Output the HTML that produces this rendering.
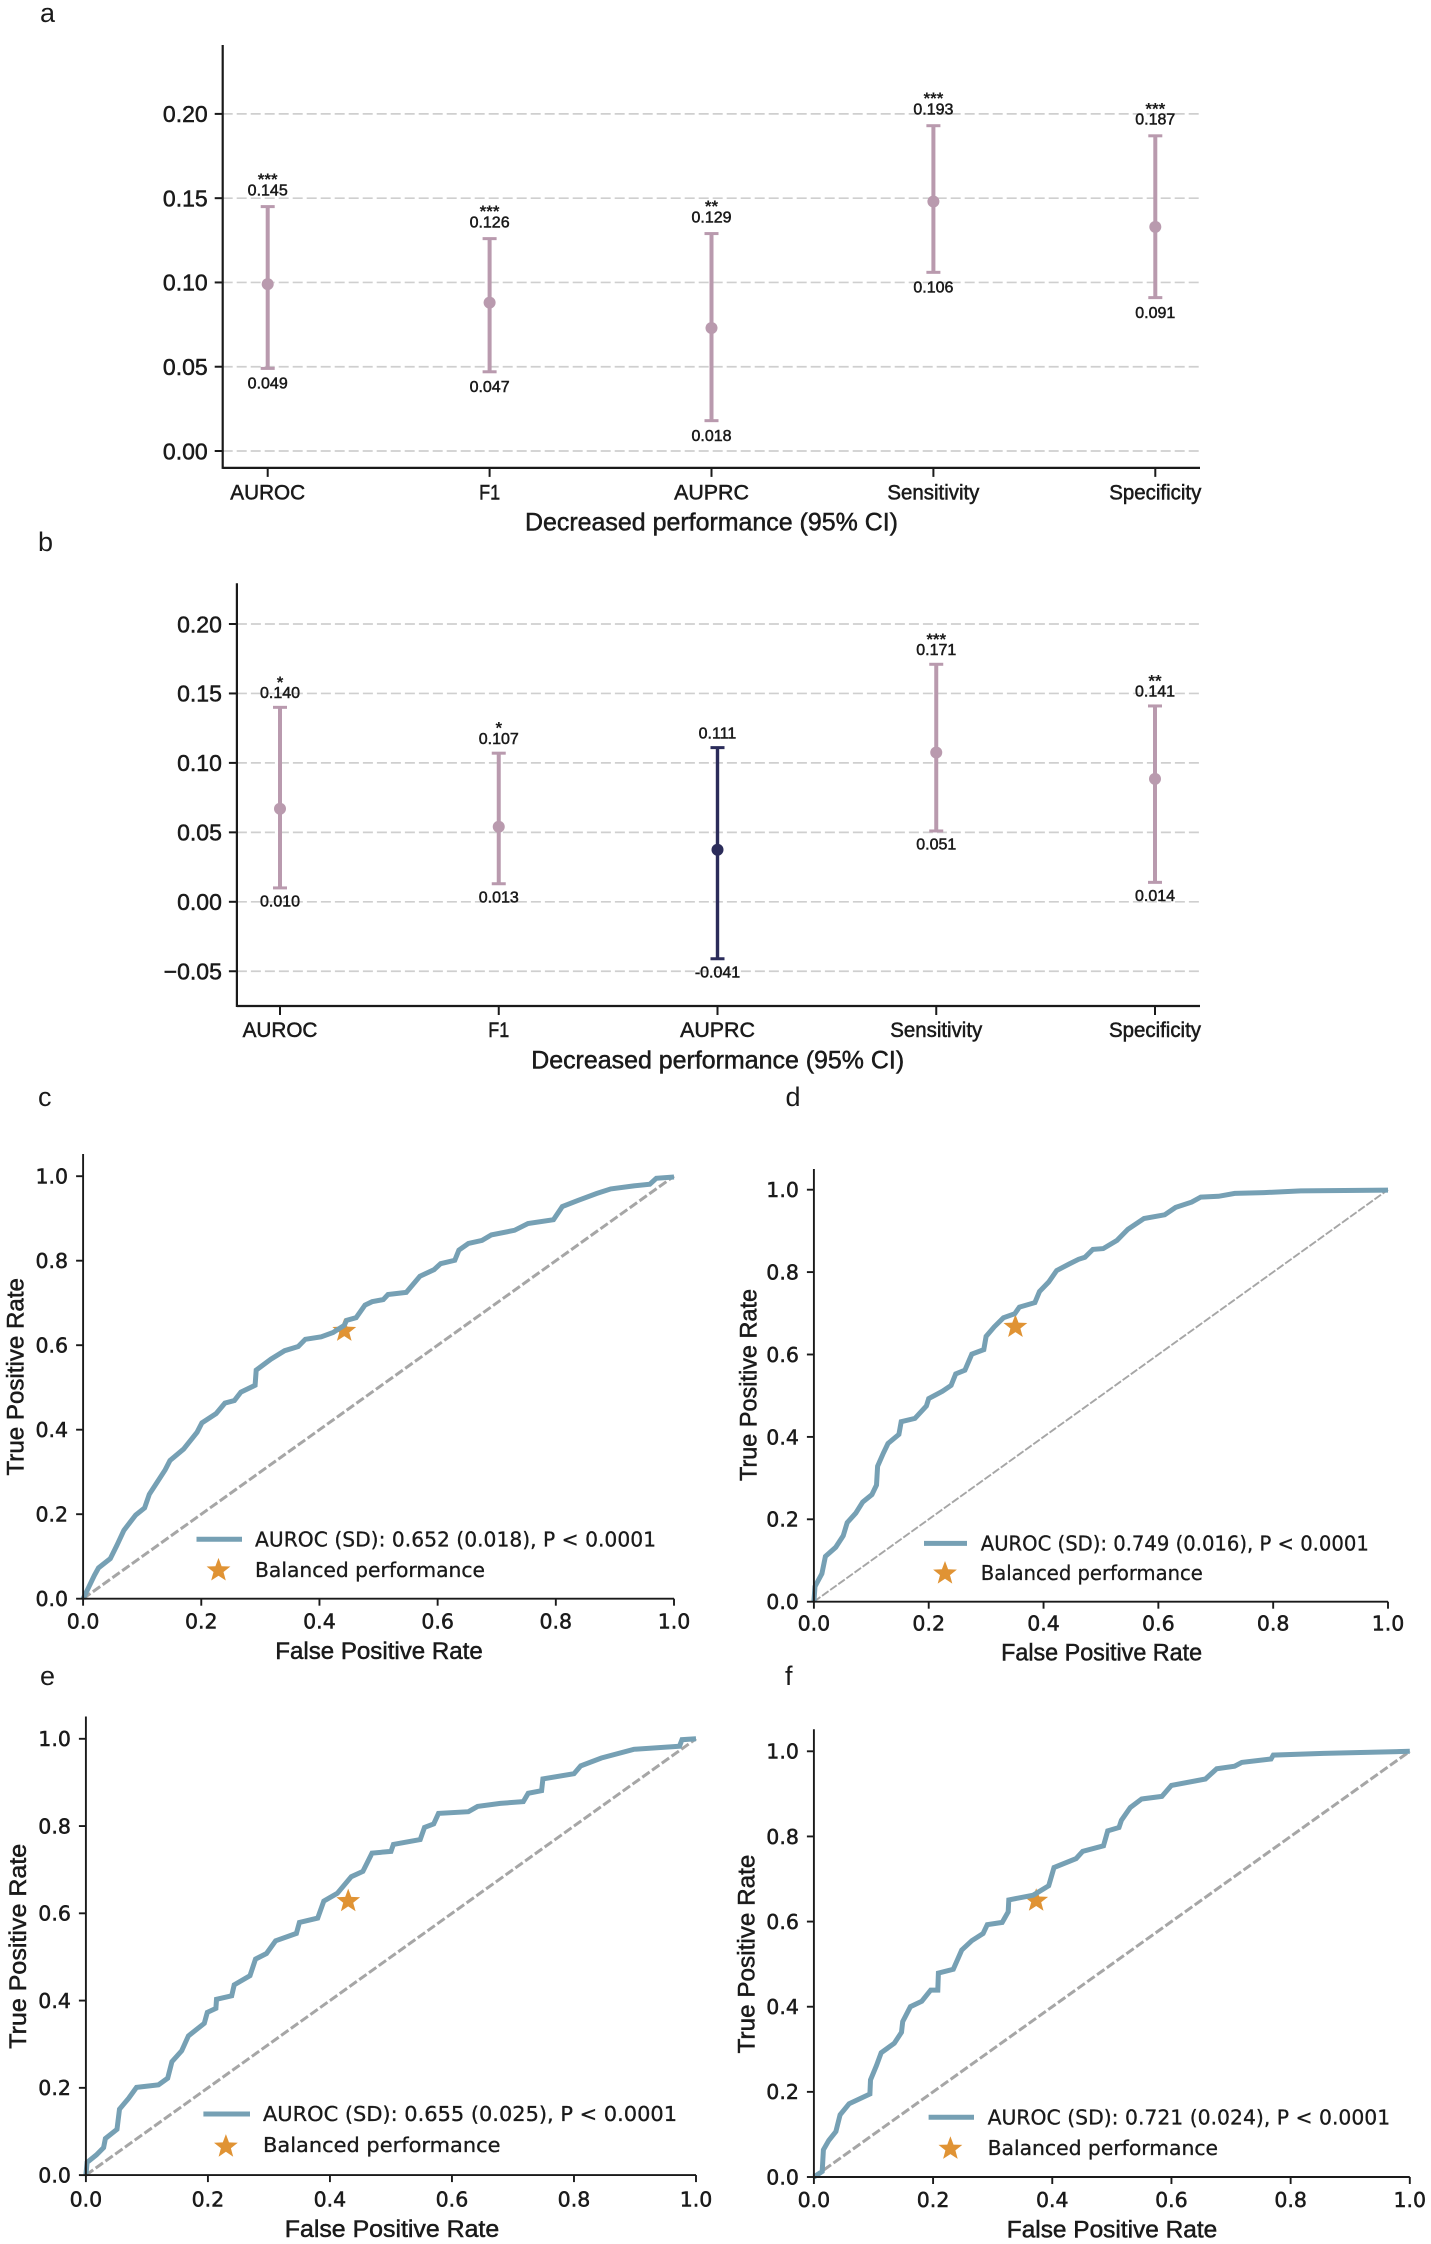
<!DOCTYPE html>
<html lang="en">
<head>
<meta charset="utf-8">
<title>Decreased performance and ROC curves</title>
<style>
html,body{margin:0;padding:0;background:#fff;}
svg{display:block;}
text{fill:#1a1a1a;}
</style>
</head>
<body>
<svg id="figure" xmlns="http://www.w3.org/2000/svg" width="1431" height="2244" viewBox="0 0 1431 2244"></svg>
<script>
// ---------- Error bar data ----------
const categories = ['AUROC', 'F1', 'AUPRC', 'Sensitivity', 'Specificity'];
const panelATicks = [0, 0.05, 0.10, 0.15, 0.20];
const panelATickLabels = ['0.00', '0.05', '0.10', '0.15', '0.20'];
const panelAMean = [0.099, 0.088, 0.073, 0.148, 0.133];
const panelALower = [0.049, 0.047, 0.018, 0.106, 0.091];
const panelAUpper = [0.145, 0.126, 0.129, 0.193, 0.187];
const panelAStars = ['***', '***', '**', '***', '***'];

const panelBTicks = [-0.05, 0, 0.05, 0.10, 0.15, 0.20];
const panelBTickLabels = ['\u22120.05', '0.00', '0.05', '0.10', '0.15', '0.20'];
const panelBMean = [0.067, 0.054, 0.0375, 0.1075, 0.0885];
const panelBLower = [0.010, 0.013, -0.041, 0.051, 0.014];
const panelBUpper = [0.140, 0.107, 0.111, 0.171, 0.141];
const panelBStars = ['*', '*', '', '***', '**'];

// ---------- ROC data ----------
const rocTicks = [0, 0.2, 0.4, 0.6, 0.8, 1.0];
const rocTickLabels = ['0.0', '0.2', '0.4', '0.6', '0.8', '1.0'];

const cFpr = [0,.007,.019,.026,.046,.057,.069,.089,.104,.112,.124,.139,.147,.170,.193,.201,.225,.240,.256,.267,.291,.293,.318,.341,.364,.376,.403,.423,.442,.446,.462,.477,.489,.508,.516,.547,.570,.594,.605,.629,.636,.652,.675,.691,.730,.753,.796,.811,.838,.869,.893,.932,.959,.970,1];
const cTpr = [0,.020,.055,.073,.095,.126,.162,.198,.215,.247,.273,.305,.327,.354,.394,.416,.438,.463,.469,.489,.505,.541,.567,.587,.597,.614,.620,.630,.647,.659,.665,.695,.703,.708,.720,.725,.763,.779,.793,.801,.825,.841,.848,.861,.872,.888,.897,.928,.943,.959,.970,.977,.981,.995,.998];
const cStar = [0.442, 0.634];

const dFpr = [0,.002,.014,.020,.038,.051,.058,.073,.085,.101,.109,.111,.121,.129,.148,.152,.176,.196,.200,.224,.239,.247,.263,.275,.296,.300,.314,.330,.350,.358,.385,.393,.409,.423,.445,.461,.472,.486,.504,.528,.547,.575,.611,.630,.658,.674,.705,.733,.784,.848,1];
const dTpr = [0,.037,.068,.110,.132,.160,.192,.215,.242,.260,.283,.329,.361,.384,.406,.437,.445,.475,.493,.511,.525,.553,.562,.601,.612,.644,.667,.689,.699,.715,.726,.753,.776,.804,.820,.831,.836,.855,.857,.877,.904,.930,.939,.957,.970,.982,.984,.991,.993,.997,.999];
const dStar = [0.351, 0.667];

const eFpr = [0,.002,.017,.029,.032,.051,.055,.070,.083,.119,.134,.141,.157,.168,.194,.199,.213,.214,.239,.243,.269,.278,.296,.311,.345,.350,.380,.390,.412,.435,.454,.469,.500,.504,.548,.555,.570,.578,.627,.642,.679,.717,.725,.747,.749,.800,.811,.845,.898,.973,.977,1];
const eTpr = [0,.029,.046,.063,.084,.105,.151,.176,.201,.207,.222,.260,.285,.319,.348,.373,.382,.403,.411,.436,.457,.495,.508,.537,.554,.579,.589,.628,.646,.684,.696,.738,.742,.758,.769,.797,.805,.829,.833,.845,.852,.856,.875,.881,.908,.920,.938,.956,.976,.983,.998,1];
const eStar = [0.430, 0.628];

const fFpr = [0,.014,.016,.025,.037,.044,.059,.094,.095,.105,.113,.135,.147,.149,.162,.181,.196,.208,.209,.234,.248,.265,.284,.291,.316,.326,.327,.368,.394,.403,.440,.451,.486,.493,.512,.516,.531,.550,.584,.600,.657,.676,.706,.718,.767,.771,.855,1];
const fTpr = [0,.013,.064,.086,.107,.146,.172,.195,.228,.262,.292,.314,.340,.365,.400,.413,.439,.439,.479,.488,.533,.555,.572,.593,.598,.623,.651,.662,.684,.727,.748,.765,.778,.813,.821,.838,.868,.888,.894,.920,.935,.959,.965,.974,.982,.991,.995,1];
const fStar = [0.373, 0.649];

// ---------- Style ----------
const ARIAL = '"Liberation Sans", Arial, sans-serif';
const DEJAVU = '"DejaVu Sans", sans-serif';
const INK = '#1a1a1a';
const PINK = '#b99aae';
const NAVY = '#2b2c5a';
const STEEL = '#76a0b4';
const ORANGE = '#e09334';
const GRID = '#cfcfcf';
const DIAG = '#a6a6a6';
const SVG_NS = 'http://www.w3.org/2000/svg';
const root = document.getElementById('figure');

function make(tag, attrs, name, parent) {
  const el = document.createElementNS(SVG_NS, tag);
  for (const k in attrs) el.setAttribute(k, attrs[k]);
  
  
  (parent || root).appendChild(el);
  return el;
}
function line(x1, y1, x2, y2, stroke, width, name, parent, dash) {
  const attrs = {x1: x1, y1: y1, x2: x2, y2: y2, stroke: stroke, 'stroke-width': width};
  if (dash) attrs['stroke-dasharray'] = dash;
  return make('line', attrs, name, parent);
}
function label(str, x, cy, size, family, anchor, name, parent, opts) {
  const o = opts || {};
  const attrs = {
    x: x, y: cy + size * 0.36, 'font-size': size, 'font-family': family,
    'text-anchor': anchor, stroke: INK, 'stroke-width': o.sw === undefined ? 0.5 : o.sw
  };
  if (o.len) { attrs.textLength = o.len; attrs.lengthAdjust = 'spacingAndGlyphs'; }
  if (o.rotate) attrs.transform = 'rotate(-90 ' + x + ' ' + cy + ')';
  if (o.weight) attrs['font-weight'] = o.weight;
  const el = make('text', attrs, name, parent);
  el.textContent = str;
  return el;
}
function star(cx, cy, r, name, parent) {
  const pts = [];
  for (let i = 0; i < 10; i++) {
    const a = -Math.PI / 2 + i * Math.PI / 5;
    const rr = i % 2 === 0 ? r : r * 0.42;
    pts.push((cx + rr * Math.cos(a)).toFixed(1) + ',' + (cy + rr * Math.sin(a)).toFixed(1));
  }
  return make('polygon', {points: pts.join(' '), fill: ORANGE}, name, parent);
}

// ---------- Error bar panel ----------
function errorPanel(id, geo, ticks, tickLabels, mean, lower, upper, stars, insignificant) {
  const g = make('g', {}, 'panel-' + id, root);
  const yOf = v => geo.y0 - v * geo.yPerUnit;
  const xOf = i => geo.cat0 + i * geo.catStep;

  ticks.forEach((t, i) => {
    line(geo.left, yOf(t), geo.right, yOf(t), GRID, 1.7, 'gridline-' + tickLabels[i], g, '10 4');
    line(geo.left - 8, yOf(t), geo.left, yOf(t), INK, 2, 'y-tick-' + tickLabels[i], g);
    label(tickLabels[i], geo.left - 15, yOf(t), 23, ARIAL, 'end', 'y-tick-label-' + tickLabels[i], g);
  });

  line(geo.left, geo.top, geo.left, geo.bottom + 1, INK, 2.2, 'y-axis-line', g);
  line(geo.left, geo.bottom, geo.right, geo.bottom, INK, 2.2, 'x-axis-line', g);

  categories.forEach((c, i) => {
    const x = xOf(i);
    const col = i === insignificant ? NAVY : PINK;
    const wid = i === insignificant ? 3.4 : 4;
    line(x, geo.bottom, x, geo.bottom + 9, INK, 2, 'x-tick-' + c, g);
    label(c, x, geo.catY, 21, ARIAL, 'middle', 'x-tick-label-' + c, g, {len: geo.catWidths[i]});

    line(x, yOf(upper[i]), x, yOf(lower[i]), col, wid, 'error-bar-' + c, g);
    line(x - 7, yOf(upper[i]), x + 7, yOf(upper[i]), col, 3, 'upper-cap-' + c, g);
    line(x - 7, yOf(lower[i]), x + 7, yOf(lower[i]), col, 3, 'lower-cap-' + c, g);
    make('circle', {cx: x, cy: yOf(mean[i]), r: 6, fill: col}, 'mean-point-' + c, g);

    label(upper[i].toFixed(3), x, yOf(upper[i]) - geo.upGap, 16, ARIAL, 'middle', 'upper-value-' + c, g);
    label(lower[i].toFixed(3), x, yOf(lower[i]) + geo.lowGap, 16, ARIAL, 'middle', 'lower-value-' + c, g);
    if (stars[i]) {
      const s = make('text', {
        x: x, y: yOf(upper[i]) - geo.upGap - 13.5 + 9, 'font-size': 17, 'font-family': ARIAL,
        'text-anchor': 'middle', 'font-weight': 'bold'
      }, 'significance-' + c, g);
      s.textContent = stars[i];
    }
  });
  label('Decreased performance (95% CI)', geo.titleX, geo.titleY, 25, ARIAL, 'middle', 'x-axis-title', g, {len: 373});
}

// ---------- ROC panel ----------
function rocPanel(id, geo, fpr, tpr, marker, legendText) {
  const g = make('g', {}, 'panel-' + id, root);
  const xOf = v => geo.left + v * (geo.x1 - geo.left);
  const yOf = v => geo.y0 - v * (geo.y0 - geo.y1);

  line(xOf(0), yOf(0), xOf(1), yOf(1), DIAG, geo.diagW, 'chance-line', g, geo.diagDash);

  star(xOf(marker[0]), yOf(marker[1]), 12.5, 'balanced-performance-star', g);

  const pts = fpr.map((f, i) => xOf(f).toFixed(1) + ',' + yOf(tpr[i]).toFixed(1)).join(' ');
  make('polyline', {
    points: pts, fill: 'none', stroke: STEEL, 'stroke-width': 5, 'stroke-linejoin': 'miter'
  }, 'roc-curve', g);

  line(geo.left, geo.top, geo.left, geo.y0 + 1, INK, 1.9, 'y-axis-line', g);
  line(geo.left, geo.y0, geo.x1, geo.y0, INK, 1.9, 'x-axis-line', g);

  rocTicks.forEach((t, i) => {
    line(geo.left - 7, yOf(t), geo.left, yOf(t), INK, 1.9, 'y-tick-' + rocTickLabels[i], g);
    label(rocTickLabels[i], geo.left - 15, yOf(t), 20.5, DEJAVU, 'end', 'y-tick-label-' + rocTickLabels[i], g);
    line(xOf(t), geo.y0, xOf(t), geo.y0 + 7, INK, 1.9, 'x-tick-' + rocTickLabels[i], g);
    label(rocTickLabels[i], xOf(t), geo.y0 + geo.xLabelGap, 20.5, DEJAVU, 'middle', 'x-tick-label-' + rocTickLabels[i], g);
  });

  label('False Positive Rate', geo.fx, geo.fy, 24, ARIAL, 'middle', 'x-axis-title', g, {len: geo.fw});
  label('True Positive Rate', geo.tx, geo.ty, 24, ARIAL, 'middle', 'y-axis-title', g, {len: geo.tw, rotate: true});

  line(geo.lx1, geo.ly1, geo.lx2, geo.ly1, STEEL, 5, 'legend-roc-handle', g);
  label(legendText, geo.ltx, geo.ly1, 20, DEJAVU, 'start', 'legend-roc-label', g, {len: geo.ltw, sw: 0.3});
  star(geo.sx, geo.sy, 12.5, 'legend-star-handle', g);
  label('Balanced performance', geo.ltx, geo.ly2, 20, DEJAVU, 'start', 'legend-star-label', g, {len: geo.lbw, sw: 0.3});
}

// ---------- Panel letters ----------
const letters = [
  ['a', 40, 14], ['b', 38, 543], ['c', 38, 1098], ['d', 785.5, 1098], ['e', 40, 1677], ['f', 785, 1677]
];
letters.forEach(l => {
  const t = make('text', {x: l[1], y: l[2] + 8, 'font-size': 27, 'font-family': ARIAL}, 'panel-letter-' + l[0], root);
  t.textContent = l[0];
});

// ---------- Draw ----------
errorPanel('a',
  {left: 222.7, right: 1200, top: 45, bottom: 467.9, y0: 451, yPerUnit: 1685.5,
   cat0: 267.7, catStep: 221.9, catY: 491.8, titleX: 711.5, titleY: 521.5, upGap: 17, lowGap: 14.5,
   catWidths: [74.8, 21, 74.8, 92, 92]},
  panelATicks, panelATickLabels, panelAMean, panelALower, panelAUpper, panelAStars, -1);

errorPanel('b',
  {left: 236.9, right: 1200, top: 583.2, bottom: 1006, y0: 901.8, yPerUnit: 1389,
   cat0: 280, catStep: 218.75, catY: 1029.3, titleX: 717.7, titleY: 1059.6, upGap: 15, lowGap: 13,
   catWidths: [74.8, 21, 74.8, 92, 92]},
  panelBTicks, panelBTickLabels, panelBMean, panelBLower, panelBUpper, panelBStars, 2);

rocPanel('c',
  {left: 83.1, x1: 674, y0: 1598.7, y1: 1176.2, top: 1154, xLabelGap: 22.5, diagW: 3, diagDash: '9 3',
   fx: 379, fy: 1650.6, fw: 207.5, tx: 15, ty: 1376.8, tw: 197.5,
   lx1: 196.5, lx2: 242, ly1: 1539.2, ly2: 1569.7, ltx: 255, ltw: 401, lbw: 230, sx: 218.5, sy: 1570.4},
  cFpr, cTpr, cStar, 'AUROC (SD): 0.652 (0.018), P < 0.0001');

rocPanel('d',
  {left: 813.9, x1: 1388, y0: 1601.7, y1: 1189.7, top: 1169, xLabelGap: 21.5, diagW: 1.9, diagDash: '8 2',
   fx: 1101.6, fy: 1651.7, fw: 201, tx: 748, ty: 1385, tw: 192,
   lx1: 924, lx2: 967, ly1: 1543.4, ly2: 1572.7, ltx: 980.8, ltw: 388, lbw: 222, sx: 945, sy: 1573.5},
  dFpr, dTpr, dStar, 'AUROC (SD): 0.749 (0.016), P < 0.0001');

rocPanel('e',
  {left: 85.9, x1: 696, y0: 2175.1, y1: 1738.8, top: 1716.5, xLabelGap: 24, diagW: 3, diagDash: '9 3',
   fx: 392, fy: 2228.2, fw: 214.4, tx: 17.4, ty: 1946.3, tw: 205,
   lx1: 203.4, lx2: 250, ly1: 2114, ly2: 2145, ltx: 263, ltw: 414, lbw: 237.5, sx: 225.9, sy: 2146.6},
  eFpr, eTpr, eStar, 'AUROC (SD): 0.655 (0.025), P < 0.0001');

rocPanel('f',
  {left: 813.9, x1: 1409.8, y0: 2177, y1: 1751.3, top: 1729.3, xLabelGap: 22.6, diagW: 3, diagDash: '9 3',
   fx: 1112, fy: 2229, fw: 210.4, tx: 745.9, ty: 1954, tw: 198.8,
   lx1: 928.6, lx2: 974, ly1: 2117.3, ly2: 2147.7, ltx: 987.6, ltw: 402.6, lbw: 230.4, sx: 950.4, sy: 2148.8},
  fFpr, fTpr, fStar, 'AUROC (SD): 0.721 (0.024), P < 0.0001');
</script>
</body>
</html>
